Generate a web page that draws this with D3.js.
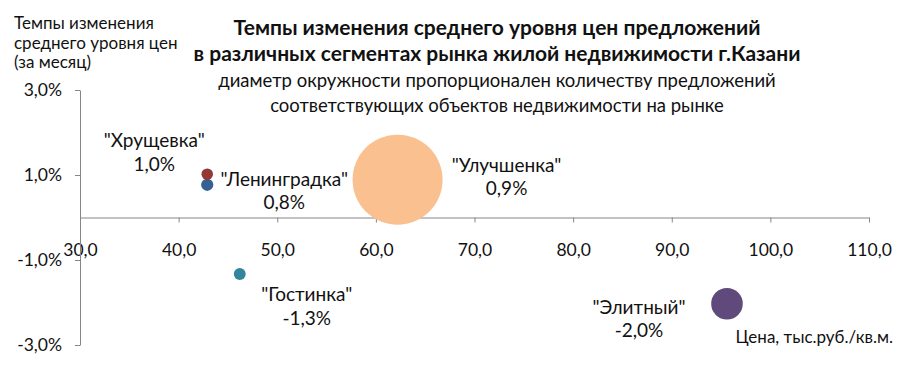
<!DOCTYPE html>
<html>
<head>
<meta charset="utf-8">
<script src="https://cdn.jsdelivr.net/npm/d3@7"></script>
<style>
  body { margin: 0; background: #fff; }
  text { font-family: Lato, "Open Sans", sans-serif; fill: #111; }
  .axis path, .axis line { stroke: #868686; }
  .axis text { font-size: 17.5px; fill: #111; }
</style>
</head>
<body>
<div id="chart"></div>
<script>
/**
 * DATA
 * */
const segments = ["Хрущевка", "Ленинградка", "Улучшенка", "Гостинка", "Элитный"];
const prices = [42.9, 42.9, 62.2, 46.2, 95.6];        // тыс.руб./кв.м.
const changes = [1.02, 0.77, 0.89, -1.33, -2.03];     // % за месяц
const offers = [32, 36, 1950, 34, 240];               // количество предложений
const colors = ["#953735", "#376092", "#FAC090", "#31859C", "#604A7B"];
const xTicks = [30, 40, 50, 60, 70, 80, 90, 100, 110];
const yTicks = [3, 1, -1, -3];

// where each data label sits relative to its bubble
const labelOffsets = [[-53, -27], [77, 1], [109, -8], [67, 27], [-88, 10]];

/**
 * CONSTANTS
 * */
const width = 907, height = 369;
const margin = { top: 90, right: 38, bottom: 24, left: 80 };

const ru = d3.formatLocale({ decimal: ",", thousands: " ", grouping: [3], currency: ["", " руб."], minus: "-" });
const fmt1 = ru.format(".1f");

const svg = d3.select("#chart")
  .append("svg")
  .attr("width", width)
  .attr("height", height);

const x = d3.scaleLinear().domain([30, 110]).range([margin.left, width - margin.right]);
const y = d3.scaleLinear().domain([-3, 3]).range([height - margin.bottom, margin.top]);
const r = d3.scaleSqrt().domain([0, d3.max(offers)]).range([0, 45]);

// axes
svg.append("g")
  .attr("class", "axis")
  .attr("transform", `translate(0,${y(0)})`)
  .call(d3.axisBottom(x).tickValues(xTicks).tickSize(5).tickSizeOuter(0).tickFormat(fmt1))
  .call(g => g.selectAll("text").attr("dy", "1.75em"));

svg.append("g")
  .attr("class", "axis")
  .attr("transform", `translate(${margin.left},0)`)
  .call(d3.axisLeft(y).tickValues(yTicks).tickSize(5).tickSizeOuter(0).tickFormat(d => fmt1(d) + "%"))
  .call(g => g.selectAll("text").attr("x", -18));

// bubbles
const data = segments.map((s, i) => ({
  name: s, price: prices[i], change: changes[i], n: offers[i], color: colors[i], off: labelOffsets[i]
}));

svg.append("g")
  .selectAll("circle")
  .data(data.slice().sort((a, b) => b.n - a.n))
  .join("circle")
  .attr("cx", d => x(d.price))
  .attr("cy", d => y(d.change))
  .attr("r", d => r(d.n))
  .attr("fill", d => d.color);

// data labels
const lbl = svg.append("g")
  .selectAll("text.lbl")
  .data(data)
  .join("text")
  .attr("class", "lbl")
  .attr("text-anchor", "middle")
  .attr("font-size", 19)
  .attr("transform", d => `translate(${x(d.price) + d.off[0]},${y(d.change) + d.off[1]})`);
lbl.append("tspan").attr("x", 0).text(d => `"${d.name}"`);
lbl.append("tspan").attr("x", 0).attr("dy", 23.5).text(d => fmt1(d.change) + "%");

// titles
const title = svg.append("text")
  .attr("text-anchor", "middle")
  .attr("font-size", 21)
  .attr("font-weight", "bold")
  .attr("fill", "#000");
title.append("tspan").attr("x", 497).attr("y", 35).text("Темпы изменения среднего уровня цен предложений");
title.append("tspan").attr("x", 497).attr("y", 61).text("в различных сегментах рынка жилой недвижимости г.Казани");

const sub = svg.append("text")
  .attr("text-anchor", "middle")
  .attr("font-size", 18.5);
sub.append("tspan").attr("x", 497).attr("y", 87).text("диаметр окружности пропорционален количеству предложений");
sub.append("tspan").attr("x", 497).attr("y", 112).text("соответствующих объектов недвижимости на рынке");

// axis titles
const yTitle = svg.append("text").attr("font-size", 17);
["Темпы изменения", "среднего уровня цен", "(за месяц)"].forEach((t, i) =>
  yTitle.append("tspan").attr("x", 14).attr("y", 29 + i * 19.5).text(t));

svg.append("text")
  .attr("x", 893)
  .attr("y", 343)
  .attr("text-anchor", "end")
  .attr("font-size", 17)
  .text("Цена, тыс.руб./кв.м.");
</script>
</body>
</html>
